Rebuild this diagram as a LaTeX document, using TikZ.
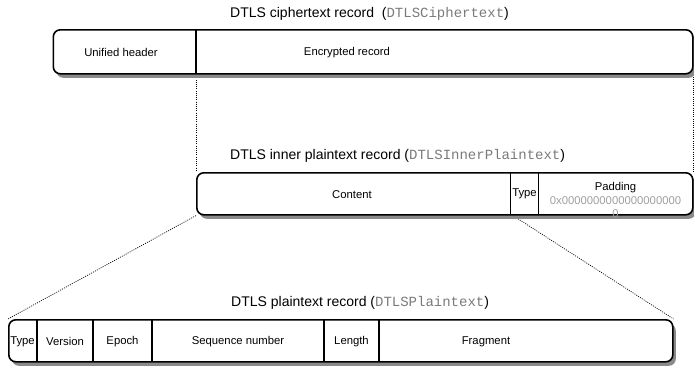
\documentclass[tikz,border=0pt]{standalone}
\usepackage{fontspec}
\setmainfont{Liberation Sans}
\setmonofont{Liberation Mono}
\usetikzlibrary{shadows,backgrounds}
\definecolor{monogray}{HTML}{7A7A7A}
\definecolor{padgray}{HTML}{A0A0A0}
\definecolor{shadowgray}{HTML}{8A8A8A}
\begin{document}
\begin{tikzpicture}[x=1pt,y=-1pt,
  recbox/.style={draw=black, line width=1.6pt, rounded corners=7pt, fill=white,
    inner sep=0pt, anchor=north west,
    drop shadow={shadow xshift=3pt, shadow yshift=-4pt, fill=shadowgray, opacity=1}},
  divider/.style={draw=black, line width=1.4pt},
  zoomline/.style={draw=black, line width=0.7pt, dash pattern=on 1pt off 1.2pt},
  title/.style={anchor=west, inner sep=0pt, font=\fontsize{14}{16}\selectfont},
  cell/.style={inner sep=0pt, font=\fontsize{11.3}{13}\selectfont}
]
\useasboundingbox (0,0) rectangle (694,365);

% boxes
\node[recbox, minimum width=639.5pt, minimum height=44pt] (ct) at (52.5,29) {};
\node[recbox, minimum width=496pt, minimum height=42pt] (ip) at (196,172) {};
\node[recbox, minimum width=664pt, minimum height=42pt] (pt) at (8,319) {};

% dividers
\coordinate (ctdivt) at (196,29);
\coordinate (ctdiv) at (196,73);
\draw[divider] (ctdivt) -- (ctdiv);
\coordinate (ipdiva) at (510.5,172);
\coordinate (ipdiv) at (510.5,214);
\draw[divider] (ipdiva) -- (ipdiv);
\coordinate (ipdivb) at (538.5,172);
\coordinate (ipdivbb) at (538.5,214);
\draw[divider] (ipdivb) -- (ipdivbb);
\foreach \xx in {37,93,152,324,379}{
  \draw[divider] (\xx,319) -- (\xx,361);
}

% titles
\node[title] (t1) at (230,14) {DTLS ciphertext record\ \ (\texttt{\color{monogray}DTLSCiphertext})};
\node[title] (t2) at (230,156) {DTLS inner plaintext record (\texttt{\color{monogray}DTLSInnerPlaintext})};
\node[title] (t3) at (231,303) {DTLS plaintext record (\texttt{\color{monogray}DTLSPlaintext})};

% cell texts
\node[cell] (uh) at (121,52.5) {Unified header};
\node[cell] (er) at (347,52.5) {Encrypted record};
\node[cell] (co) at (352,194.5) {Content};
\node[cell] (ty) at (524.5,194) {Type};
\node[cell, align=center] (pa) at (615.5,200) {Padding\\[0.5pt]{\color{padgray}0x0000000000000000000}\\[0.5pt]{\color{padgray}0}};
\node[cell] (b1) at (22.5,341.5) {Type};
\node[cell] (b2) at (65,341.5) {Version};
\node[cell] (b3) at (122.5,341.5) {Epoch};
\node[cell] (b4) at (238,341.5) {Sequence number};
\node[cell] (b5) at (351.5,341.5) {Length};
\node[cell] (b6) at (486,341.5) {Fragment};

% zoom lines
\begin{scope}[on background layer]
\draw[zoomline] (ctdiv) -- (ip.north west);
\draw[zoomline] (ct.south east) -- (ip.north east);
\draw[zoomline] (ip.south west) -- (pt.north west);
\draw[zoomline] (ipdiv) -- (pt.north east);
\end{scope}
\end{tikzpicture}
\end{document}
